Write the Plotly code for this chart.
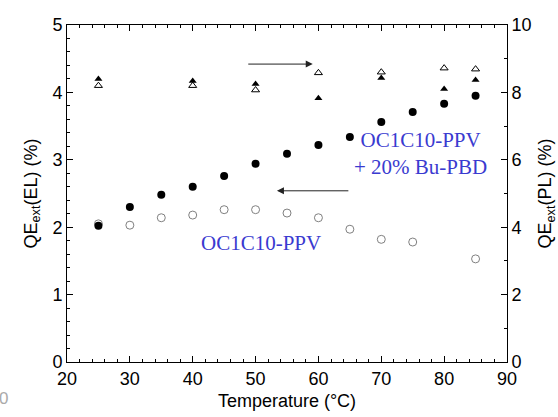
import plotly.graph_objects as go

temps_el_blend = [25, 30, 35, 40, 45, 50, 55, 60, 65, 70, 75, 80, 85]
el_blend = [2.02, 2.30, 2.48, 2.60, 2.76, 2.94, 3.09, 3.22, 3.34, 3.56, 3.71, 3.83, 3.95]

temps_el_pure = [25, 30, 35, 40, 45, 50, 55, 60, 65, 70, 75, 85]
el_pure = [2.05, 2.03, 2.14, 2.18, 2.26, 2.26, 2.21, 2.14, 1.97, 1.82, 1.78, 1.53]

temps_pl = [25, 40, 50, 60, 70, 80, 85]
pl_filled = [8.40, 8.34, 8.25, 7.83, 8.43, 8.10, 8.37]
pl_open = [8.20, 8.20, 8.07, 8.58, 8.60, 8.72, 8.69]

blue = "#3a3ad0"
font = "Liberation Sans, Arial, sans-serif"

fig = go.Figure()
fig.add_trace(go.Scatter(x=temps_el_pure, y=el_pure, mode="markers",
                         marker=dict(symbol="circle-open", size=8, color="#808080", line=dict(width=1)),
                         showlegend=False))
fig.add_trace(go.Scatter(x=temps_el_blend, y=el_blend, mode="markers",
                         marker=dict(symbol="circle", size=8, color="black"),
                         showlegend=False))
fig.add_trace(go.Scatter(x=temps_pl, y=pl_open, mode="markers", yaxis="y2",
                         marker=dict(symbol="triangle-up-open", size=7, color="black", line=dict(width=1)),
                         showlegend=False))
fig.add_trace(go.Scatter(x=temps_pl, y=pl_filled, mode="markers", yaxis="y2",
                         marker=dict(symbol="triangle-up", size=7, color="black"),
                         showlegend=False))

axis_common = dict(showline=True, linecolor="black", linewidth=1, ticks="inside",
                   ticklen=6, tickcolor="black", showgrid=False, zeroline=False,
                   automargin=False,
                   tickfont=dict(family=font, size=18, color="black"))

fig.update_layout(
    width=558, height=417,
    margin=dict(l=67, r=51, t=25, b=55),
    paper_bgcolor="white", plot_bgcolor="white",
    xaxis=dict(range=[20, 90], dtick=10, mirror="ticks",
               minor=dict(dtick=2, ticks="inside", ticklen=3, tickcolor="black"),
               title=dict(text="Temperature (°C)", font=dict(family=font, size=18, color="black"), standoff=6),
               **axis_common),
    yaxis=dict(range=[0, 5], dtick=1,
               minor=dict(dtick=0.2, ticks="inside", ticklen=3, tickcolor="black"),
               title=dict(text="QE<sub>ext</sub>(EL) (%)", font=dict(family=font, size=18, color="black"), standoff=10),
               **axis_common),
    yaxis2=dict(range=[0, 10], dtick=2, overlaying="y", side="right",
                minor=dict(dtick=1, ticks="inside", ticklen=3, tickcolor="black"),
                title=dict(text="QE<sub>ext</sub>(PL) (%)", font=dict(family=font, size=18, color="black"), standoff=10),
                **axis_common),
)

# arrows
fig.add_annotation(x=59.1, y=4.42, ax=48.6, ay=4.42, xref="x", yref="y", axref="x", ayref="y",
                   text="", showarrow=True, arrowhead=2, arrowsize=1.4, arrowwidth=1, arrowcolor="#222")
fig.add_annotation(x=53.4, y=2.54, ax=65.0, ay=2.54, xref="x", yref="y", axref="x", ayref="y",
                   text="", showarrow=True, arrowhead=2, arrowsize=1.4, arrowwidth=1, arrowcolor="#222")

serif = "Liberation Serif, Times New Roman, serif"
fig.add_annotation(x=76.2, y=3.09, xref="x", yref="y", showarrow=False,
                   text="OC1C10-PPV<br>+ 20% Bu-PBD", align="center",
                   font=dict(family=serif, size=21, color=blue))
fig.add_annotation(x=50.9, y=1.77, xref="x", yref="y", showarrow=False,
                   text="OC1C10-PPV", font=dict(family=serif, size=21, color=blue))
fig.add_annotation(x=(3 - 67) / 440, y=-(399 - 362) / 337, xref="paper", yref="paper",
                   xanchor="center", yanchor="middle",
                   showarrow=False, text="0", font=dict(family=font, size=17, color="#aaa"))

fig.write_html("out.html")
